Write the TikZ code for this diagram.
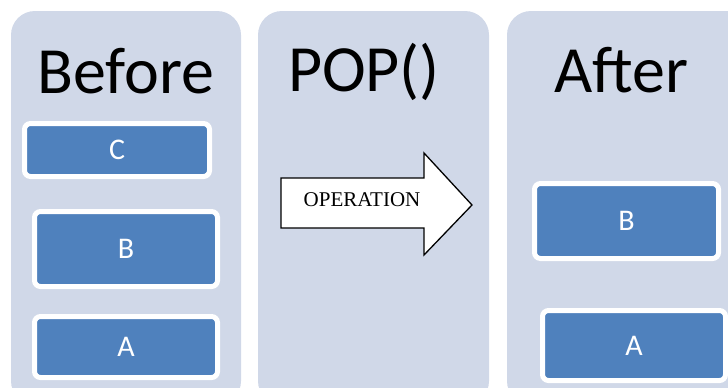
\documentclass[tikz,border=0pt]{standalone}
\usepackage{fontspec}
\setmainfont{Carlito}
\newfontfamily\timesfont{Liberation Serif}
\definecolor{panelfill}{HTML}{D0D8E8}
\definecolor{boxfill}{HTML}{4F81BD}
\begin{document}
\begin{tikzpicture}[x=1pt,y=-1pt,
  panel/.style={fill=panelfill,rounded corners=24pt},
  stackbox/.style={draw=white,line width=5pt,fill=boxfill,rounded corners=6pt,inner sep=0pt,outer sep=0pt,
    text=white,font=\fontsize{30}{32}\selectfont},
  title/.style={anchor=base,font=\fontsize{66}{72}\selectfont,inner sep=0pt}]
\useasboundingbox (0,0) rectangle (728,388);
\begin{scope}
\clip (0,0) rectangle (728,388);
\fill[white] (0,0) rectangle (728,388);
\fill[panel] (11,11) rectangle (241,405);
\fill[panel] (258,11) rectangle (489,405);
\fill[panel] (507,11) rectangle (750,405);
% titles
\node[title] (tbefore) at (126,93) {Before};
\node[title] (tpop) at (364,91) {POP()};
\node[title] (tafter) at (621,92) {After};
% before stack
\node[stackbox,minimum width=185pt,minimum height=53pt] (c1) at (117,150) {C};
\node[stackbox,minimum width=183pt,minimum height=75pt] (b1) at (126,249) {B};
\node[stackbox,minimum width=183pt,minimum height=61pt] (a1) at (126,347) {A};
% after stack
\node[stackbox,minimum width=184pt,minimum height=75pt] (b2) at (626.5,221) {B};
\node[stackbox,minimum width=183pt,minimum height=70pt] (a2) at (634,345.5) {A};
% arrow
\draw[fill=white,line width=1.3pt,line join=miter] (281,178) -- (424,178) -- (424,153) -- (472,205) -- (424,255) -- (424,228) -- (281,228) -- cycle;
\node[anchor=base,inner sep=0pt,font=\timesfont\fontsize{21}{24}\selectfont] (op) at (362,206) {OPERATION};
\end{scope}
\end{tikzpicture}
\end{document}
